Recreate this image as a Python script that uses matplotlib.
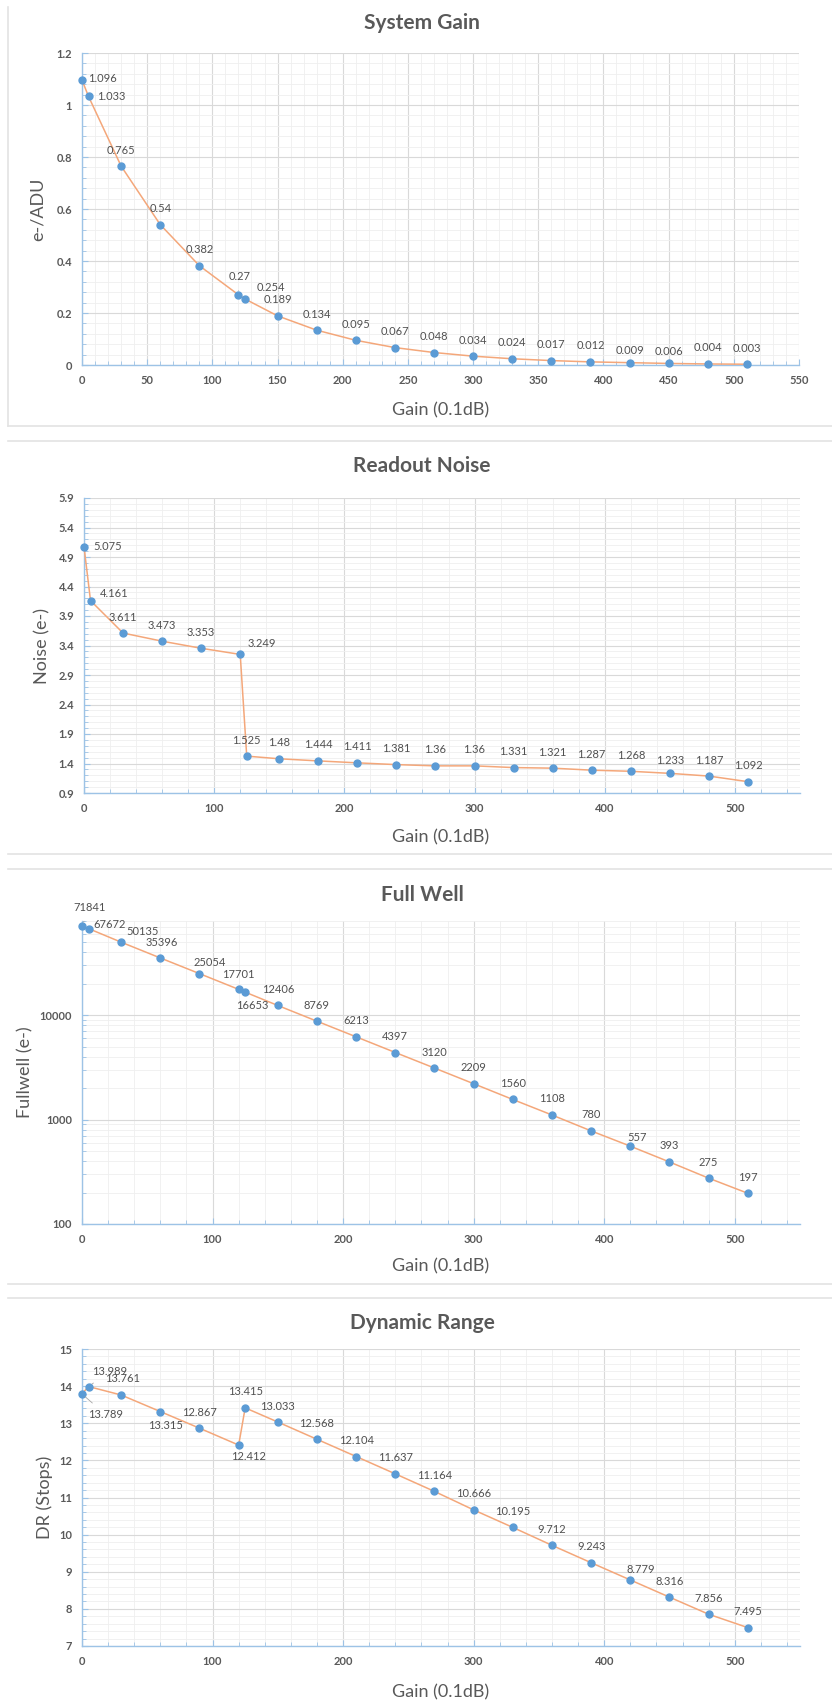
import matplotlib
matplotlib.use("Agg")
import matplotlib.pyplot as plt
from matplotlib.lines import Line2D
from matplotlib.ticker import FixedLocator, MultipleLocator, FuncFormatter, LogLocator, NullFormatter

# -----------------------
# DATA
# -----------------------
gain = [0, 5, 30, 60, 90, 120, 125, 150, 180, 210, 240, 270, 300, 330, 360, 390, 420, 450, 480, 510]

system_gain = [1.096, 1.033, 0.765, 0.54, 0.382, 0.27, 0.254, 0.189, 0.134, 0.095,
               0.067, 0.048, 0.034, 0.024, 0.017, 0.012, 0.009, 0.006, 0.004, 0.003]

read_noise = [5.075, 4.161, 3.611, 3.473, 3.353, 3.249, 1.525, 1.48, 1.444, 1.411,
              1.381, 1.36, 1.36, 1.331, 1.321, 1.287, 1.268, 1.233, 1.187, 1.092]

full_well = [71841, 67672, 50135, 35396, 25054, 17701, 16653, 12406, 8769, 6213,
             4397, 3120, 2209, 1560, 1108, 780, 557, 393, 275, 197]

dyn_range = [13.789, 13.989, 13.761, 13.315, 12.867, 12.412, 13.415, 13.033, 12.568, 12.104,
             11.637, 11.164, 10.666, 10.195, 9.712, 9.243, 8.779, 8.316, 7.856, 7.495]

titles = ["System Gain", "Readout Noise", "Full Well", "Dynamic Range"]
ylabels = ["e-/ADU", "Noise (e-)", "Fullwell (e-)", "DR (Stops)"]
xlabel = "Gain (0.1dB)"

# -----------------------
# STYLE
# -----------------------
W, H = 832, 1704
FONT = ["Lato", "DejaVu Sans"]
TXT = "#595959"
LBL = "#505050"
AXBLUE = "#9DC3E6"
MARK = "#5B9BD5"
LINE = "#F4A77A"

plt.rcParams["font.family"] = FONT

fig = plt.figure(figsize=(W / 100, H / 100), dpi=100)


def fx(px):
    return px / W


def fy(py):
    return 1 - py / H


def make_axes(left, right, top, bottom):
    return fig.add_axes([fx(left), fy(bottom), fx(right - left), (bottom - top) / H])


def style_axes(ax):
    for s in ["top", "right"]:
        ax.spines[s].set_visible(False)
    for s in ["left", "bottom"]:
        ax.spines[s].set_color(AXBLUE)
        ax.spines[s].set_linewidth(1.0)
    ax.tick_params(which="both", direction="in", color=AXBLUE, labelcolor=TXT,
                   labelsize=8, pad=7)
    ax.tick_params(which="major", length=4)
    ax.tick_params(which="minor", length=3)
    for lab in ax.get_xticklabels() + ax.get_yticklabels():
        lab.set_fontweight("bold")
    ax.grid(True, which="major", color="#D9D9D9", lw=0.8)
    ax.grid(True, which="minor", color="#EFEFEF", lw=0.6)
    ax.set_axisbelow(True)


def draw_series(ax, ys, fmt, offsets):
    ax.plot(gain, ys, color=LINE, lw=1.1, zorder=3, clip_on=False)
    ax.plot(gain, ys, "o", color=MARK, ms=5, zorder=4, clip_on=False)
    for i, (x, y) in enumerate(zip(gain, ys)):
        dx, dy, ha, leader = offsets.get(i, (0, 16, "center", False))
        kw = {}
        if leader:
            kw["arrowprops"] = dict(arrowstyle="-", color="#A6A6A6", lw=0.6,
                                    shrinkA=4, shrinkB=3)
        ax.annotate(fmt(y), (x, y), xytext=(dx, dy), textcoords="offset pixels",
                    ha=ha, va="center", fontsize=8, color=LBL, zorder=5, **kw)


def fmt_num(v):
    return f"{v:g}"


# panel frames / separators
for yy in [426, 441, 854, 869, 1284, 1298]:
    fig.add_artist(Line2D([fx(8), 1], [fy(yy), fy(yy)], color="#E3E3E3", lw=1.2))
fig.add_artist(Line2D([fx(8), fx(8)], [fy(7), fy(426)], color="#E3E3E3", lw=1.2))

# -----------------------
# SYSTEM GAIN
# -----------------------
ax1 = make_axes(82, 799, 53, 365)
ax1.set_xlim(0, 550)
ax1.set_ylim(0, 1.2)
ax1.xaxis.set_major_locator(MultipleLocator(50))
ax1.xaxis.set_minor_locator(MultipleLocator(10))
ax1.yaxis.set_major_locator(MultipleLocator(0.2))
ax1.yaxis.set_minor_locator(MultipleLocator(0.04))
ax1.yaxis.set_major_formatter(FuncFormatter(lambda v, p: f"{round(v, 2):g}"))
style_axes(ax1)
draw_series(ax1, system_gain, fmt_num, {
    0: (6, 2, "left", False),
    1: (9, 0, "left", False),
    5: (1, 18, "center", True),
    6: (26, 11, "center", True),
    16: (0, 12, "center", False),
    17: (0, 12, "center", False),
})

# -----------------------
# READOUT NOISE
# -----------------------
ax2 = make_axes(84, 800, 498, 793)
ax2.set_xlim(0, 550)
ax2.set_ylim(0.9, 5.9)
ax2.xaxis.set_major_locator(MultipleLocator(100))
ax2.xaxis.set_minor_locator(MultipleLocator(20))
ax2.yaxis.set_major_locator(FixedLocator([0.9, 1.4, 1.9, 2.4, 2.9, 3.4, 3.9, 4.4, 4.9, 5.4, 5.9]))
ax2.yaxis.set_minor_locator(FixedLocator([0.9 + 0.1 * k for k in range(51)]))
ax2.yaxis.set_major_formatter(FuncFormatter(lambda v, p: f"{v:.1f}"))
style_axes(ax2)
draw_series(ax2, read_noise, fmt_num, {
    0: (9, 0, "left", False),
    1: (9, 7, "left", False),
    5: (22, 11, "center", False),
    17: (0, 13, "center", False),
})

# -----------------------
# FULL WELL
# -----------------------
ax3 = make_axes(82, 800, 921, 1224)
ax3.set_yscale("log")
ax3.set_xlim(0, 550)
ax3.set_ylim(100, 80000)
ax3.xaxis.set_major_locator(MultipleLocator(100))
ax3.xaxis.set_minor_locator(MultipleLocator(20))
ax3.yaxis.set_major_locator(FixedLocator([100, 1000, 10000]))
ax3.yaxis.set_major_formatter(FuncFormatter(lambda v, p: f"{v:.0f}"))
ax3.yaxis.set_minor_locator(LogLocator(base=10, subs=range(2, 10)))
ax3.yaxis.set_minor_formatter(NullFormatter())
style_axes(ax3)
draw_series(ax3, full_well, lambda v: f"{v:d}", {
    0: (8, 18, "center", True),
    1: (21, 4, "center", False),
    2: (21, 11, "center", False),
    3: (1, 15, "center", False),
    4: (10, 11, "center", False),
    5: (0, 15, "center", False),
    6: (7, -13, "center", False),
    16: (7, 9, "center", False),
})

# -----------------------
# DYNAMIC RANGE
# -----------------------
ax4 = make_axes(82, 800, 1349, 1646)
ax4.set_xlim(0, 550)
ax4.set_ylim(7, 15)
ax4.xaxis.set_major_locator(MultipleLocator(100))
ax4.xaxis.set_minor_locator(MultipleLocator(20))
ax4.yaxis.set_major_locator(MultipleLocator(1))
ax4.yaxis.set_minor_locator(MultipleLocator(0.2))
ax4.yaxis.set_major_formatter(FuncFormatter(lambda v, p: f"{v:.0f}"))
style_axes(ax4)
draw_series(ax4, dyn_range, fmt_num, {
    0: (24, -21, "center", True),
    1: (21, 15, "center", True),
    2: (1, 16, "center", False),
    3: (5, -14, "center", False),
    5: (10, -11, "center", False),
    16: (11, 10, "center", False),
})

# -----------------------
# TITLES AND LABELS
# -----------------------
title_y = [23, 466, 895, 1323]
xlabel_y = [410, 837, 1266, 1692]
ylabel_x = [38, 42, 25, 45]
for ax, t, yl, ty, xy, yx in zip([ax1, ax2, ax3, ax4], titles, ylabels, title_y, xlabel_y, ylabel_x):
    fig.text(fx(422), fy(ty), t, ha="center", va="center", fontsize=15,
             fontweight="bold", color=TXT)
    fig.text(fx(441), fy(xy), xlabel, ha="center", va="center", fontsize=13, color=TXT)
    pos = ax.get_position()
    fig.text(fx(yx), (pos.y0 + pos.y1) / 2, yl, ha="center", va="center",
             rotation=90, fontsize=13, color=TXT)

fig.savefig("out.png", dpi=100, facecolor="white")
